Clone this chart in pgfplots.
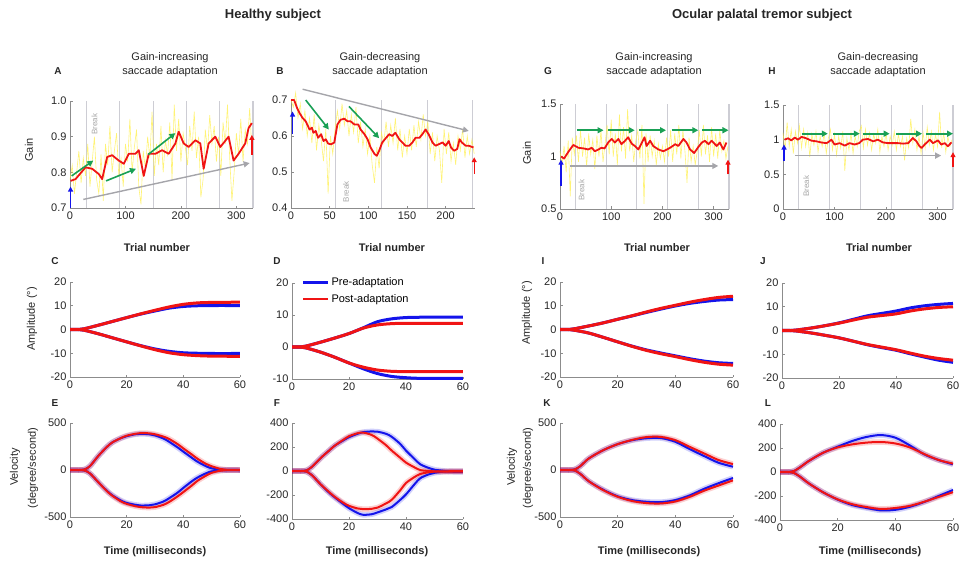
\documentclass[border=0pt]{standalone}
\usepackage{fontspec}
\setmainfont{Liberation Sans}
\usepackage{pgfplots}
\usepackage{pgfplotstable}
\pgfplotsset{compat=1.18}
\usetikzlibrary{arrows.meta}

\definecolor{PreBlue}{RGB}{20,20,235}
\definecolor{PostRed}{RGB}{240,20,20}
\definecolor{TrialYellow}{RGB}{255,238,60}
\definecolor{ArrowGreen}{RGB}{25,160,85}
\definecolor{ArrowGrey}{RGB}{165,165,170}
\definecolor{BreakGrey}{RGB}{205,205,212}

\pgfplotsset{
  panel/.style={
    scale only axis, axis lines=left,
    axis line style={-, draw=black!45, line width=0.8pt},
    tick style={draw=black!45, line width=0.6pt},
    tick align=inside, major tick length=2.5pt,
    tick label style={font=\fontsize{11}{12}\selectfont, text=black!85},
    /pgf/number format/assume math mode=true,
  },
  gainpanel/.style={panel, clip=false, xmin=0, xmax=330, xtick={0,100,200,300}},
  timepanel/.style={panel, xmin=0, xmax=60, xtick={0,20,40,60}},
  brk/.style={draw=BreakGrey, line width=1.1pt, forget plot},
  yel/.style={draw=TrialYellow, line width=0.6pt, opacity=0.7},
  smoothred/.style={draw=PostRed, line width=1.8pt, line join=round},
  garrow/.style={draw=ArrowGreen, line width=1.6pt, -{Triangle[length=6pt,width=6pt]}},
  grarrow/.style={draw=ArrowGrey, line width=1.4pt, -{Triangle[length=6pt,width=6pt]}},
  barrow/.style={draw=PreBlue, line width=1.4pt, -{Triangle[length=5pt,width=5pt]}},
  rarrow/.style={draw=PostRed, line width=1.4pt, -{Triangle[length=5pt,width=5pt]}},
  preline/.style={draw=PreBlue, line width=3pt, smooth, forget plot},
  postline/.style={draw=PostRed, line width=3pt, smooth, forget plot},
  preband/.style={draw=PreBlue, line width=5.5pt, opacity=0.2, smooth, forget plot},
  postband/.style={draw=PostRed, line width=5.5pt, opacity=0.2, smooth, forget plot},
  precore/.style={draw=PreBlue, line width=2pt, smooth, forget plot},
  postcore/.style={draw=PostRed, line width=2pt, smooth, forget plot},
}

\newcommand{\ampcurves}[1]{%
  \addplot[preline] table[x=t,y=preup]{#1};
  \addplot[preline] table[x=t,y=predn]{#1};
  \addplot[postline] table[x=t,y=postup]{#1};
  \addplot[postline] table[x=t,y=postdn]{#1};
}
\newcommand{\velcurves}[1]{%
  \addplot[preband] table[x=t,y=preup]{#1};
  \addplot[preband] table[x=t,y=predn]{#1};
  \addplot[postband] table[x=t,y=postup]{#1};
  \addplot[postband] table[x=t,y=postdn]{#1};
  \addplot[precore] table[x=t,y=preup]{#1};
  \addplot[precore] table[x=t,y=predn]{#1};
  \addplot[postcore] table[x=t,y=postup]{#1};
  \addplot[postcore] table[x=t,y=postdn]{#1};
}

% amplitude (deg)
\pgfplotstableread{
t preup postup predn postdn
0 0 0 0 0
3 0 0 0 0
5 0.3 0.3 -0.3 -0.3
10 1.8 1.8 -1.8 -1.8
15 3.4 3.4 -3.5 -3.5
20 5 5 -5.2 -5.2
25 6.5 6.6 -6.8 -6.9
30 7.8 8.1 -8.2 -8.5
35 9 9.5 -9.2 -9.8
40 9.7 10.6 -9.8 -10.6
45 10 11.2 -10 -11
50 10.1 11.4 -10.1 -11.2
60 10.1 11.5 -10.1 -11.3
}\ampC
\pgfplotstableread{
t preup postup predn postdn
0 0 0 0 0
3 0 0 0 0
5 0.3 0.3 -0.3 -0.3
10 1.5 1.5 -1.6 -1.6
15 2.8 2.8 -3.2 -3.2
20 4.2 4.2 -5 -5
25 6 5.9 -6.8 -6.3
30 7.9 6.9 -8.3 -7.2
35 8.8 7.3 -9.2 -7.6
40 9.2 7.4 -9.6 -7.7
45 9.3 7.4 -9.8 -7.7
50 9.3 7.4 -9.8 -7.7
60 9.3 7.4 -9.8 -7.7
}\ampD
\pgfplotstableread{
t preup postup predn postdn
0 0 0 0 0
3 0 0 0 0
5 0.3 0.3 -0.3 -0.3
10 1.5 1.5 -1.5 -1.5
15 2.8 2.8 -3.3 -3.3
20 4.3 4.3 -5.2 -5.2
25 5.7 5.8 -7 -7.1
30 7.2 7.4 -8.6 -8.8
35 8.6 8.9 -9.9 -10.2
40 9.9 10.2 -11.1 -11.4
45 11 11.5 -12.3 -12.7
50 11.8 12.6 -13.3 -13.8
55 12.4 13.5 -14 -14.6
60 12.6 14 -14.3 -15
}\ampI
\pgfplotstableread{
t preup postup predn postdn
0 0 0 0 0
3 0 0 0 0
5 0.2 0.2 -0.2 -0.2
10 1 1 -1 -1
15 2 2 -2 -2
20 3.2 3.1 -3.1 -3.1
25 4.7 4.4 -4.5 -4.5
30 6.2 5.6 -6 -5.9
35 7.2 6.3 -7.2 -7
40 8.2 7 -8.3 -8.1
45 9.5 8.2 -9.8 -9.5
50 10.4 9.1 -11.2 -10.8
55 11 9.7 -12.5 -11.8
60 11.4 10 -13.4 -12.5
}\ampJ

% velocity (deg/s)
\pgfplotstableread{
t preup postup predn postdn
0 0 0 0 0
3 0 0 0 0
5 5 5 -5 -5
7 40 40 -35 -35
10 150 150 -130 -130
13 245 245 -220 -225
15 295 295 -270 -275
18 340 340 -325 -335
20 360 365 -350 -360
23 380 385 -370 -385
25 385 393 -378 -395
28 380 390 -375 -400
30 368 380 -365 -395
33 335 355 -335 -370
35 300 330 -300 -340
38 240 275 -240 -280
40 195 230 -190 -235
43 130 165 -120 -165
45 88 120 -80 -115
48 40 65 -35 -60
50 18 40 -15 -30
53 4 12 -3 -8
55 0 3 0 -2
60 0 0 0 0
}\velE
\pgfplotstableread{
t preup postup predn postdn
0 0 0 0 0
3 0 0 0 0
5 5 5 -5 -5
7 35 35 -35 -35
10 107 107 -110 -110
13 170 170 -180 -175
15 211 211 -220 -215
18 255 260 -275 -265
20 282 290 -310 -290
23 310 315 -350 -312
25 324 320 -365 -318
28 330 300 -360 -315
30 328 270 -345 -305
33 310 215 -320 -270
35 285 170 -300 -240
38 225 110 -240 -160
40 170 70 -195 -100
43 100 30 -110 -50
45 56 8 -60 -25
48 25 0 -28 -10
50 11 -3 -15 -5
53 2 -5 -6 -3
55 -5 -5 -2 -2
60 -8 -6 0 0
}\velF
\pgfplotstableread{
t preup postup predn postdn
0 0 0 0 0
3 0 0 0 0
5 5 5 -5 -5
7 40 40 -40 -40
10 123 123 -120 -120
15 211 211 -210 -215
20 275 275 -280 -285
25 317 320 -320 -330
30 338 350 -338 -352
35 340 352 -342 -356
40 300 317 -320 -335
45 222 246 -270 -285
50 148 176 -200 -220
55 77 106 -140 -165
60 35 63 -85 -110
}\velK
\pgfplotstableread{
t preup postup predn postdn
0 0 0 0 0
3 0 0 0 0
5 10 10 -10 -10
7 40 40 -40 -40
10 92 92 -95 -95
15 161 161 -170 -170
20 211 205 -230 -228
25 258 230 -275 -268
30 292 245 -300 -292
35 308 250 -320 -308
40 286 238 -315 -300
45 222 205 -290 -282
50 147 150 -250 -248
55 100 100 -200 -208
60 64 70 -150 -168
}\velL

\begin{document}
\begin{tikzpicture}
\path[use as bounding box] (0pt,0pt) rectangle (963pt,-564pt);

% ---------------- A ----------------
\begin{axis}[gainpanel, at={(70pt,-208pt)}, anchor=south west, width=183pt, height=107pt,
  ymin=0.7, ymax=1.0, ytick={0.7,0.8,0.9,1.0},
  yticklabel style={/pgf/number format/.cd, fixed, fixed zerofill, precision=1}]
\addplot[brk] coordinates {(30,0.7)(30,1.0)};
\addplot[brk] coordinates {(90,0.7)(90,1.0)};
\addplot[brk] coordinates {(150,0.7)(150,1.0)};
\addplot[brk] coordinates {(210,0.7)(210,1.0)};
\addplot[brk] coordinates {(270,0.7)(270,1.0)};
\addplot[brk] coordinates {(330,0.7)(330,1.0)};
\addplot[yel] coordinates {(0,.78)(4,.82)(8,.74)(12,.80)(16,.86)(20,.77)(24,.84)(28,.79)(32,.88)(36,.76)(40,.83)(44,.90)(48,.78)(52,.74)(56,.85)(60,.72)(64,.88)(68,.82)(72,.93)(76,.80)(80,.86)(84,.91)(88,.79)(92,.84)(96,.76)(100,.88)(104,.83)(108,.95)(112,.80)(116,.87)(120,.92)(124,.76)(128,.71)(132,.86)(136,.81)(140,.90)(144,.84)(148,.97)(152,.79)(156,.88)(160,.82)(164,.93)(168,.80)(172,.89)(176,.85)(180,.94)(184,.78)(188,.99)(192,.86)(196,.95)(200,.83)(204,.91)(208,.87)(212,.82)(216,.93)(220,.86)(224,.97)(228,.84)(232,.90)(236,.73)(240,.78)(244,.92)(248,.86)(252,.96)(256,.88)(260,.93)(264,.83)(268,.90)(272,.79)(276,.94)(280,.88)(284,.99)(288,.84)(292,.72)(296,.80)(300,.91)(304,.85)(308,.95)(312,.83)(316,.92)(320,.88)(324,.98)(328,.86)};
\addplot[smoothred] coordinates {(1,.776)(10,.781)(28,.814)(40,.81)(52,.795)(58,.781)(67,.843)(76,.848)(88,.833)(97,.824)(106,.852)(118,.852)(124,.862)(133,.79)(142,.852)(154,.852)(166,.862)(178,.852)(190,.881)(196,.914)(205,.881)(214,.871)(226,.89)(235,.881)(241,.81)(250,.881)(262,.9)(271,.871)(286,.9)(295,.833)(304,.852)(316,.881)(322,.924)(328,.938)};
\addplot[grarrow] coordinates {(24,0.724)(324,0.826)};
\addplot[garrow] coordinates {(3,0.79)(42,0.833)};
\addplot[garrow] coordinates {(65,0.776)(119,0.81)};
\addplot[garrow] coordinates {(141,0.85)(190,0.91)};
\addplot[barrow] coordinates {(1,0.70)(1,0.76)};
\addplot[rarrow] coordinates {(328,0.85)(328,0.905)};
\node[rotate=90, text=black!35, font=\fontsize{8}{9}\selectfont] at (axis cs:44,0.935) {Break};
\end{axis}

% ---------------- B ----------------
\begin{axis}[gainpanel, at={(291pt,-208pt)}, anchor=south west, width=184pt, height=108pt,
  xmax=238, xtick={0,50,100,150,200},
  ymin=0.4, ymax=0.7, ytick={0.4,0.5,0.6,0.7}]
\addplot[brk] coordinates {(58,0.4)(58,0.7)};
\addplot[brk] coordinates {(117,0.4)(117,0.7)};
\addplot[brk] coordinates {(176,0.4)(176,0.7)};
\addplot[brk] coordinates {(235,0.4)(235,0.7)};
\addplot[yel] coordinates {(0,.70)(3,.68)(6,.72)(9,.65)(12,.69)(15,.62)(18,.67)(21,.60)(24,.65)(27,.58)(30,.66)(33,.56)(36,.63)(39,.59)(42,.53)(45,.62)(48,.44)(51,.60)(54,.55)(57,.62)(60,.67)(63,.62)(66,.69)(69,.63)(72,.67)(75,.60)(78,.66)(81,.61)(84,.68)(87,.58)(90,.64)(93,.57)(96,.62)(99,.55)(102,.60)(105,.52)(108,.47)(111,.57)(114,.51)(117,.61)(120,.58)(123,.64)(126,.57)(129,.63)(132,.58)(135,.65)(138,.56)(141,.62)(144,.54)(147,.60)(150,.55)(153,.62)(156,.56)(159,.63)(162,.57)(165,.64)(168,.59)(171,.66)(174,.60)(177,.64)(180,.55)(183,.61)(186,.53)(189,.60)(192,.56)(195,.47)(198,.62)(201,.55)(204,.61)(207,.53)(210,.58)(213,.52)(216,.60)(219,.56)(222,.62)(225,.54)(228,.60)(231,.55)(234,.59)(237,.55)};
\addplot[smoothred] coordinates {(0,.7)(4,.7)(8,.677)(11,.664)(15,.65)(19,.641)(24,.618)(27,.623)(29,.609)(32,.614)(35,.595)(39,.605)(42,.586)(45,.591)(48,.579)(52,.577)(56,.582)(60,.632)(64,.645)(69,.648)(73,.641)(77,.641)(82,.632)(87,.632)(90,.618)(95,.605)(99,.591)(103,.568)(108,.55)(111,.545)(114,.559)(118,.582)(123,.595)(127,.605)(131,.6)(135,.609)(140,.591)(144,.582)(148,.573)(153,.573)(157,.582)(161,.595)(166,.595)(170,.605)(174,.618)(178,.605)(183,.582)(187,.573)(191,.577)(196,.582)(200,.573)(204,.586)(207,.568)(211,.559)(215,.564)(218,.591)(221,.582)(226,.573)(230,.573)(236,.568)};
\addplot[grarrow] coordinates {(15,0.73)(230,0.614)};
\addplot[garrow] coordinates {(19,0.70)(49,0.618)};
\addplot[garrow] coordinates {(75,0.682)(114,0.594)};
\addplot[barrow] coordinates {(2,0.605)(2,0.668)};
\addplot[rarrow] coordinates {(237,0.495)(237,0.541)};
\node[rotate=90, text=black!35, font=\fontsize{8}{9}\selectfont] at (axis cs:71,0.445) {Break};
\end{axis}

% ---------------- G ----------------
\begin{axis}[gainpanel, at={(560pt,-209pt)}, anchor=south west, width=169pt, height=105pt,
  ymin=0.5, ymax=1.5, ytick={0.5,1,1.5}]
\addplot[brk] coordinates {(30,0.5)(30,1.5)};
\addplot[brk] coordinates {(90,0.5)(90,1.5)};
\addplot[brk] coordinates {(150,0.5)(150,1.5)};
\addplot[brk] coordinates {(210,0.5)(210,1.5)};
\addplot[brk] coordinates {(270,0.5)(270,1.5)};
\addplot[brk] coordinates {(330,0.5)(330,1.5)};
\addplot[yel] coordinates {(0,1.05)(4,0.92)(8,1.10)(12,0.85)(16,1.15)(20,0.62)(24,1.18)(28,1.02)(32,1.20)(36,0.95)(40,1.25)(44,1.00)(48,1.18)(52,0.90)(56,1.22)(60,1.02)(64,1.16)(68,0.88)(72,1.20)(76,1.00)(80,1.25)(84,0.95)(88,1.12)(92,1.30)(96,1.02)(100,1.35)(104,1.00)(108,1.22)(112,0.92)(116,1.40)(120,1.05)(124,1.28)(128,0.98)(132,1.45)(136,1.05)(140,1.20)(144,0.95)(148,1.15)(152,1.25)(156,0.98)(160,1.30)(164,0.55)(168,1.22)(172,0.95)(176,1.20)(180,1.00)(184,1.15)(188,0.92)(192,1.12)(196,0.98)(200,1.10)(204,0.95)(208,1.18)(212,1.00)(216,1.25)(220,0.95)(224,1.22)(228,1.02)(232,1.30)(236,0.98)(240,1.25)(244,1.05)(248,0.75)(252,1.18)(256,0.95)(260,1.10)(264,0.92)(268,1.05)(272,1.25)(276,1.00)(280,1.30)(284,1.02)(288,1.20)(292,0.95)(296,1.28)(300,1.00)(304,1.22)(308,0.98)(312,1.25)(316,1.05)(320,1.15)(324,0.98)(328,1.10)};
\addplot[smoothred] coordinates {(2,1.0)(8,0.98)(13,1.02)(20,1.07)(26,1.11)(36,1.083)(46,1.077)(55,1.067)(62,1.083)(68,1.05)(75,1.067)(81,1.083)(87,1.077)(94,1.133)(101,1.167)(107,1.133)(114,1.167)(120,1.117)(127,1.15)(133,1.183)(140,1.123)(146,1.1)(153,1.067)(160,1.133)(165,1.183)(169,1.1)(176,1.15)(182,1.1)(192,1.067)(202,1.05)(215,1.083)(225,1.117)(231,1.1)(241,1.167)(247,1.133)(254,1.067)(262,1.033)(269,1.083)(277,1.133)(283,1.15)(290,1.117)(296,1.15)(306,1.1)(312,1.133)(319,1.067)(325,1.133)};
\addplot[grarrow] coordinates {(20,0.91)(309,0.91)};
\addplot[garrow] coordinates {(33,1.25)(85,1.25)};
\addplot[garrow] coordinates {(94,1.25)(146,1.25)};
\addplot[garrow] coordinates {(155,1.25)(207,1.25)};
\addplot[garrow] coordinates {(218,1.25)(270,1.25)};
\addplot[garrow] coordinates {(277,1.25)(329,1.25)};
\addplot[barrow] coordinates {(2,0.72)(2,0.97)};
\addplot[rarrow] coordinates {(328,0.83)(328,0.97)};
\node[rotate=90, text=black!35, font=\fontsize{8}{9}\selectfont] at (axis cs:42,0.68) {Break};
\end{axis}

% ---------------- H ----------------
\begin{axis}[gainpanel, at={(783pt,-209pt)}, anchor=south west, width=170pt, height=104pt,
  ymin=0, ymax=1.5, ytick={0,0.5,1,1.5}]
\addplot[brk] coordinates {(30,0)(30,1.5)};
\addplot[brk] coordinates {(90,0)(90,1.5)};
\addplot[brk] coordinates {(150,0)(150,1.5)};
\addplot[brk] coordinates {(210,0)(210,1.5)};
\addplot[brk] coordinates {(270,0)(270,1.5)};
\addplot[brk] coordinates {(330,0)(330,1.5)};
\addplot[yel] coordinates {(0,1.10)(4,0.85)(8,1.25)(12,0.90)(16,1.15)(20,0.80)(24,1.12)(28,0.95)(32,1.20)(36,0.88)(40,1.15)(44,0.90)(48,1.10)(52,0.75)(56,1.08)(60,0.92)(64,1.12)(68,0.82)(72,1.05)(76,0.90)(80,1.10)(84,0.80)(88,1.02)(92,1.15)(96,0.85)(100,1.08)(104,0.78)(108,1.05)(112,0.88)(116,1.12)(120,0.55)(124,1.02)(128,0.85)(132,1.10)(136,0.80)(140,1.05)(144,0.90)(148,1.12)(152,1.20)(156,0.88)(160,1.15)(164,0.92)(168,1.10)(172,0.85)(176,1.08)(180,0.95)(184,1.15)(188,0.82)(192,1.05)(196,0.90)(200,1.10)(204,0.85)(208,1.05)(212,0.92)(216,1.12)(220,0.85)(224,1.08)(228,0.90)(232,1.05)(236,0.70)(240,1.02)(244,0.88)(248,1.30)(252,0.95)(256,1.15)(260,0.85)(264,1.05)(268,0.80)(272,1.10)(276,0.88)(280,1.18)(284,0.92)(288,1.12)(292,0.85)(296,1.08)(300,0.90)(304,1.40)(308,0.88)(312,1.10)(316,0.82)(320,1.05)(324,0.90)(328,1.00)};
\addplot[smoothred] coordinates {(3,1.0)(10,1.02)(16,0.99)(23,1.03)(29,1.0)(36,1.04)(45,1.02)(55,0.986)(65,0.976)(74,0.96)(84,0.95)(87,0.96)(94,1.0)(100,0.93)(110,0.95)(120,0.914)(129,0.95)(139,0.93)(148,0.95)(155,1.0)(165,1.01)(175,0.976)(184,1.0)(194,0.96)(204,0.95)(214,0.95)(223,0.95)(233,0.943)(243,0.95)(252,1.024)(259,0.976)(265,0.905)(269,0.88)(275,0.93)(285,1.0)(291,0.95)(301,0.99)(307,0.93)(314,0.95)(320,0.905)(327,0.96)};
\addplot[grarrow] coordinates {(23,0.77)(307,0.77)};
\addplot[garrow] coordinates {(36,1.086)(87,1.086)};
\addplot[garrow] coordinates {(97,1.086)(149,1.086)};
\addplot[garrow] coordinates {(155,1.086)(207,1.086)};
\addplot[garrow] coordinates {(220,1.086)(270,1.086)};
\addplot[garrow] coordinates {(278,1.086)(330,1.086)};
\addplot[barrow] coordinates {(2,0.69)(2,0.93)};
\addplot[rarrow] coordinates {(330,0.6)(330,0.82)};
\node[rotate=90, text=black!35, font=\fontsize{8}{9}\selectfont] at (axis cs:45,0.33) {Break};
\end{axis}

% ---------------- C ----------------
\begin{axis}[timepanel, at={(70pt,-377pt)}, anchor=south west, width=170pt, height=95pt,
  ymin=-20, ymax=20, ytick={-20,-10,0,10,20}]
\ampcurves{\ampC}
\end{axis}

% ---------------- D ----------------
\begin{axis}[timepanel, at={(292pt,-379pt)}, anchor=south west, width=171pt, height=96pt,
  ymin=-10, ymax=20, ytick={-10,0,10,20},
  legend style={at={(rel axis cs:0.04,1.10)}, anchor=north west, draw=none, fill=none,
    font=\fontsize{11}{12}\selectfont, row sep=3pt, cells={anchor=west}},
  legend image code/.code={\draw[#1] (0pt,0pt) -- (25pt,0pt);}]
\ampcurves{\ampD}
\addlegendimage{draw=PreBlue, line width=2.5pt}
\addlegendentry{Pre-adaptation}
\addlegendimage{draw=PostRed, line width=2.5pt}
\addlegendentry{Post-adaptation}
\end{axis}

% ---------------- I ----------------
\begin{axis}[timepanel, at={(560pt,-377pt)}, anchor=south west, width=173pt, height=95pt,
  ymin=-20, ymax=20, ytick={-20,-10,0,10,20}]
\ampcurves{\ampI}
\end{axis}

% ---------------- J ----------------
\begin{axis}[timepanel, at={(782pt,-378pt)}, anchor=south west, width=171pt, height=95pt,
  ymin=-20, ymax=20, ytick={-20,-10,0,10,20}]
\ampcurves{\ampJ}
\end{axis}

% ---------------- E ----------------
\begin{axis}[timepanel, at={(70pt,-517pt)}, anchor=south west, width=170pt, height=94pt,
  ymin=-500, ymax=500, ytick={-500,0,500}]
\velcurves{\velE}
\end{axis}

% ---------------- F ----------------
\begin{axis}[timepanel, at={(292pt,-519pt)}, anchor=south west, width=171pt, height=96pt,
  ymin=-400, ymax=400, ytick={-400,-200,0,200,400}]
\velcurves{\velF}
\end{axis}

% ---------------- K ----------------
\begin{axis}[timepanel, at={(560pt,-517pt)}, anchor=south west, width=173pt, height=94pt,
  ymin=-500, ymax=500, ytick={-500,0,500}]
\velcurves{\velK}
\end{axis}

% ---------------- L ----------------
\begin{axis}[timepanel, at={(780pt,-520pt)}, anchor=south west, width=173pt, height=96pt,
  ymin=-400, ymax=400, ytick={-400,-200,0,200,400}]
\velcurves{\velL}
\end{axis}

% ---------------- text ----------------
\tikzset{lab/.style={font=\fontsize{11}{12}\selectfont, text=black!85},
         blab/.style={font=\bfseries\fontsize{11}{12}\selectfont, text=black!85},
         letter/.style={font=\bfseries\fontsize{10}{11}\selectfont, text=black!85},
         ptitle/.style={font=\fontsize{11}{14}\selectfont, align=center, text=black!85}}
\node[font=\bfseries\fontsize{13}{15}\selectfont, text=black!85] at (273pt,-15pt) {Healthy subject};
\node[font=\bfseries\fontsize{13}{15}\selectfont, text=black!85] at (762pt,-15pt) {Ocular palatal tremor subject};

\node[ptitle] at (170pt,-65pt) {Gain-increasing\\saccade adaptation};
\node[ptitle] at (380pt,-65pt) {Gain-decreasing\\saccade adaptation};
\node[ptitle] at (654pt,-65pt) {Gain-increasing\\saccade adaptation};
\node[ptitle] at (878pt,-65pt) {Gain-decreasing\\saccade adaptation};

\node[letter] at (58pt,-71pt) {A};
\node[letter] at (280pt,-71pt) {B};
\node[letter] at (548pt,-71pt) {G};
\node[letter] at (772pt,-71pt) {H};
\node[letter] at (55pt,-261pt) {C};
\node[letter] at (277pt,-261pt) {D};
\node[letter] at (543pt,-261pt) {I};
\node[letter] at (763pt,-261pt) {J};
\node[letter] at (55pt,-403pt) {E};
\node[letter] at (277pt,-403pt) {F};
\node[letter] at (547pt,-403pt) {K};
\node[letter] at (768pt,-403pt) {L};

\node[lab, rotate=90] at (29pt,-150pt) {Gain};
\node[lab, rotate=90] at (527pt,-153pt) {Gain};
\node[blab] at (157pt,-248pt) {Trial number};
\node[blab] at (392pt,-248pt) {Trial number};
\node[blab] at (657pt,-248pt) {Trial number};
\node[blab] at (879pt,-248pt) {Trial number};

\node[lab, rotate=90] at (32pt,-319pt) {Amplitude (°)};
\node[lab, rotate=90] at (527pt,-313pt) {Amplitude (°)};

\node[lab, rotate=90] at (15pt,-467pt) {Velocity};
\node[lab, rotate=90] at (33pt,-468pt) {(degree/second)};
\node[lab, rotate=90] at (512pt,-467pt) {Velocity};
\node[lab, rotate=90] at (528pt,-468pt) {(degree/second)};

\node[blab] at (155pt,-552pt) {Time (milliseconds)};
\node[blab] at (377pt,-552pt) {Time (milliseconds)};
\node[blab] at (649pt,-552pt) {Time (milliseconds)};
\node[blab] at (870pt,-552pt) {Time (milliseconds)};
\end{tikzpicture}
\end{document}
